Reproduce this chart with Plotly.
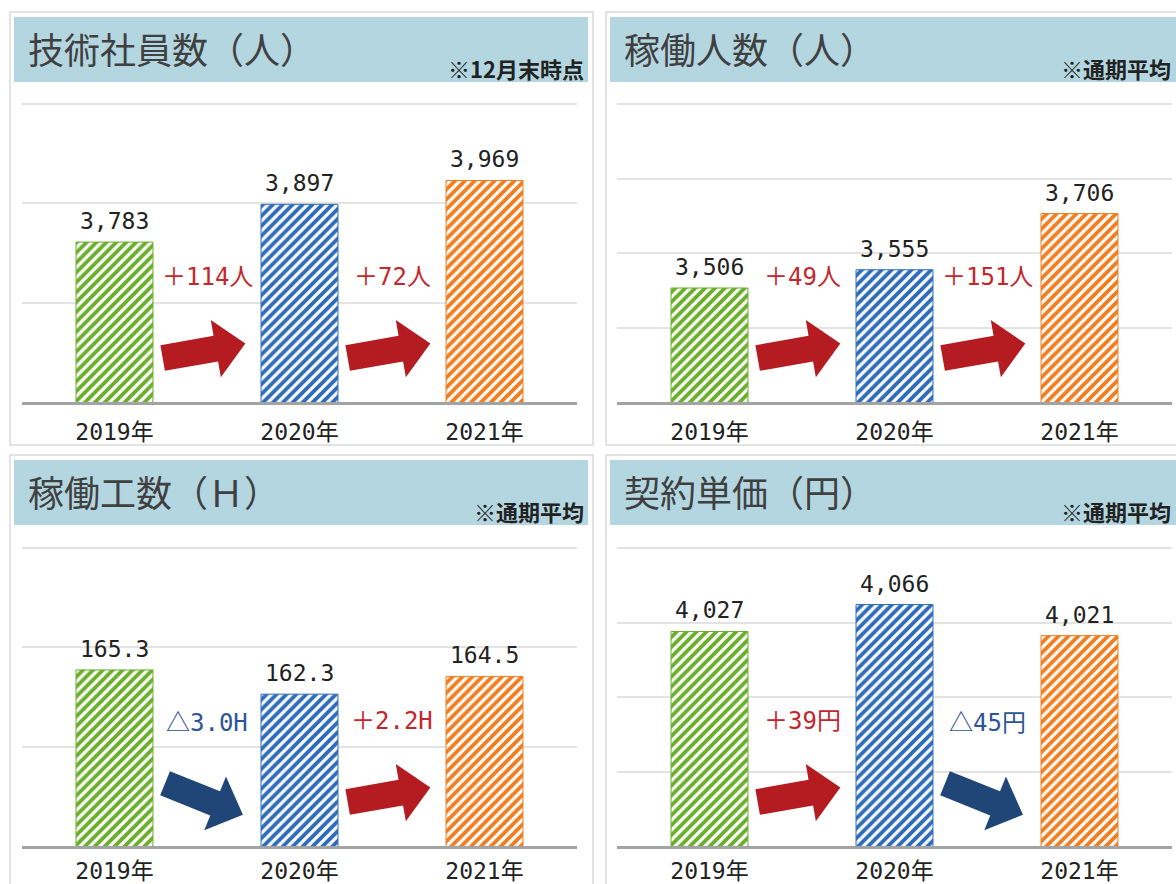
import math
import plotly.graph_objects as go

# ---------------- data ----------------
years = ["2019年", "2020年", "2021年"]
engineers = [3783, 3897, 3969]          # 技術社員数(人)
active_staff = [3506, 3555, 3706]       # 稼働人数(人)
work_hours = [165.3, 162.3, 164.5]      # 稼働工数(H)
unit_price = [4027, 4066, 4021]         # 契約単価(円)

titles = ["技術社員数（人）", "稼働人数（人）", "稼働工数（Ｈ）", "契約単価（円）"]
notes = ["※12月末時点", "※通期平均", "※通期平均", "※通期平均"]
change_labels = [["＋114人", "＋72人"], ["＋49人", "＋151人"],
                 ["△3.0H", "＋2.2H"], ["＋39円", "△45円"]]
value_formats = ["{:,}", "{:,}", "{:.1f}", "{:,}"]
axis_ranges = [[3300, 4200], [3200, 4000], [143.5, 180.4], [3716, 4148]]
axis_steps = [300, 200, 12.3, 108]

series = [engineers, active_staff, work_hours, unit_price]

# ---------------- style ----------------
W, H = 1176, 900
bar_colors = ["#6aae2c", "#2e6cba", "#f07d1f"]
up_color_text, down_color_text = "#c3272c", "#2b5597"
up_color_arrow, down_color_arrow = "#b41c21", "#1f4677"
header_color = "#b3d6e0"
title_color = "#404040"
num_font = "DejaVu Sans Mono, Noto Sans CJK JP"
jp_font = "Noto Sans CJK JP"

# plot areas in pixels (x0, x1, ytop, ybottom)
plot_px = [(22, 577, 104, 402), (617, 1172, 104, 402),
           (22, 577, 548, 846), (617, 1172, 548, 846)]
frame_px = [(10, 593, 12, 445), (606, 1189, 12, 445),
            (10, 593, 455, 888), (606, 1189, 455, 888)]
label_standoff = [7, 7, 2, 2]
TOP_PAD = 5  # px of extra axis room above the top gridline


def px(x):
    return x / W


def py(y):
    return 1 - y / H


def cjk_sym(s):
    # render the triangle mark with the CJK font so it keeps its full size
    return s.replace("△", '<span style="font-family:Noto Sans CJK JP">△</span>')


fig = go.Figure()
shapes = []
annotations = []

for i in range(4):
    sfx = "" if i == 0 else str(i + 1)
    xa, ya = "x" + sfx, "y" + sfx
    x0, x1, yt, yb = plot_px[i]
    fx0, fx1, fy0, fy1 = frame_px[i]
    vals = series[i]
    r0, r1 = axis_ranges[i]
    upp = (r1 - r0) / (yb - yt)
    top_px = yt - TOP_PAD

    fig.add_trace(go.Bar(
        x=years, y=vals, xaxis=xa, yaxis=ya, showlegend=False, hoverinfo="skip",
        marker=dict(color="white",
                    line=dict(color=bar_colors, width=1),
                    pattern=dict(shape="/", fgcolor=bar_colors, bgcolor="white",
                                 fgopacity=1, size=7, solidity=0.55)),
    ))

    fig.update_layout(**{
        "xaxis" + sfx: dict(domain=[px(x0), px(x1)], anchor=ya, type="category",
                            showline=True, linecolor="#a3a3a3", linewidth=3,
                            ticks="", ticklabelstandoff=label_standoff[i], showgrid=False,
                            tickfont=dict(family=num_font, size=23, color="#222222"),
                            fixedrange=True),
        "yaxis" + sfx: dict(domain=[py(yb), py(top_px)], anchor=xa,
                            range=[r0, r1 + TOP_PAD * upp], tick0=r0,
                            dtick=axis_steps[i], showticklabels=False,
                            showgrid=True, gridcolor="#e3e3e3", gridwidth=2,
                            zeroline=False, showline=False, fixedrange=True),
    })

    dom_frac = (yb - yt) / (yb - top_px)  # fraction of domain up to top gridline

    # frame and header
    shapes.append(dict(type="rect", xref="paper", yref="paper",
                       x0=px(fx0), x1=px(fx1), y0=py(fy1), y1=py(fy0),
                       line=dict(color="#d9d9d9", width=1.5), layer="below"))
    shapes.append(dict(type="rect", xref="paper", yref="paper",
                       x0=px(fx0 + 4), x1=px(fx1 - 5), y0=py(fy0 + 70), y1=py(fy0 + 5),
                       fillcolor=header_color, line=dict(width=0), layer="below"))

    annotations.append(dict(xref="paper", yref="paper", x=px(fx0 + 16), y=py(fy0 + 36),
                            xanchor="left", yanchor="middle", showarrow=False,
                            text=titles[i],
                            font=dict(family=jp_font, size=36, color=title_color)))
    note_right = min(fx1 - 7, 1173)
    annotations.append(dict(xref="paper", yref="paper", x=px(note_right), y=py(fy0 + 56),
                            xanchor="right", yanchor="middle", showarrow=False,
                            text="<b>" + notes[i] + "</b>",
                            font=dict(family=jp_font, size=22, color="#222222")))

    # value labels
    for k in range(3):
        annotations.append(dict(xref=xa, yref=ya, x=years[k], y=vals[k],
                                xanchor="center", yanchor="bottom", yshift=6,
                                showarrow=False, text=value_formats[i].format(vals[k]),
                                font=dict(family=num_font, size=23, color="#222222")))

    # change labels and arrows
    for k in range(2):
        up = vals[k + 1] >= vals[k]
        annotations.append(dict(xref=xa + " domain", yref=ya + " domain",
                                x=(k + 1) / 3, y=0.42 * dom_frac, xanchor="center",
                                yanchor="middle", showarrow=False,
                                text=cjk_sym(change_labels[i][k]),
                                font=dict(family=num_font, size=24,
                                          color=up_color_text if up else down_color_text)))
        cx = x0 + (x1 - x0) * (k + 1) / 3 - 3
        cy = yb - (0.172 if up else 0.158) * (yb - yt)
        ang = math.radians(-10 if up else 22)
        pts = [(-42, -13), (12, -13), (12, -29), (42, 0), (12, 29), (12, 13), (-42, 13)]
        path = ""
        for j, (lx, ly) in enumerate(pts):
            rx = cx + lx * math.cos(ang) - ly * math.sin(ang)
            ry = cy + lx * math.sin(ang) + ly * math.cos(ang)
            path += ("M" if j == 0 else "L") + f"{px(rx):.5f},{py(ry):.5f}"
        path += "Z"
        shapes.append(dict(type="path", xref="paper", yref="paper", path=path,
                           fillcolor=up_color_arrow if up else down_color_arrow,
                           line=dict(width=0)))

fig.update_layout(
    width=W, height=H, margin=dict(l=0, r=0, t=0, b=0),
    paper_bgcolor="white", plot_bgcolor="rgba(0,0,0,0)",
    bargap=0.584, shapes=shapes, annotations=annotations,
    hovermode=False, showlegend=False,
)

post = ("var d=document.documentElement,b=document.body;"
        "d.style.margin='0';d.style.padding='0';d.style.overflow='hidden';"
        "b.style.margin='0';b.style.padding='0';b.style.overflow='hidden';")
fig.write_html("out.html", config={"displayModeBar": False}, post_script=post)
